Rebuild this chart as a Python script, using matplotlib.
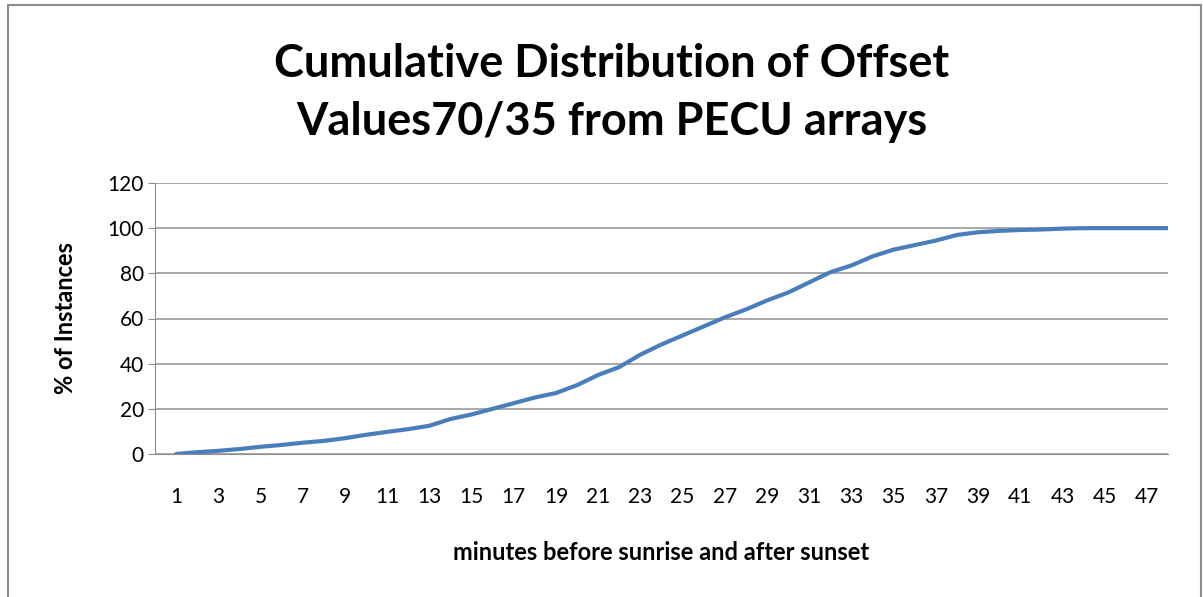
import matplotlib.pyplot as plt
from matplotlib.patches import Rectangle

minutes = list(range(1, 49))
pct_instances = [
    0.0, 0.8, 1.4, 2.2, 3.2, 4.0, 5.0, 5.8, 7.0, 8.5,
    9.8, 11.0, 12.5, 15.5, 17.5, 20.0, 22.5, 25.0, 27.0, 30.5,
    35.0, 38.5, 44.0, 48.5, 52.5, 56.5, 60.5, 64.0, 68.0, 71.5,
    76.0, 80.5, 83.5, 87.5, 90.5, 92.5, 94.5, 97.0, 98.2, 98.8,
    99.2, 99.4, 99.8, 100.0, 100.0, 100.0, 100.0, 100.0,
]
y_ticks = [0, 20, 40, 60, 80, 100, 120]
x_tick_labels = [str(m) for m in minutes if m % 2 == 1]

plt.rcParams["font.family"] = ["Lato", "DejaVu Sans"]

W, H = 1203, 597
fig = plt.figure(figsize=(W / 100, H / 100), dpi=100)

# chart border like the Excel chart area
fig.patches.append(Rectangle((8 / W, -0.05), (W - 10) / W, 1.05 - 5 / H,
                             transform=fig.transFigure, fill=False,
                             edgecolor="#8c8c8c", linewidth=1.5))

ax = fig.add_axes([155 / W, 1 - 454 / H, (1168 - 155) / W, (454 - 183) / H])

ax.plot(minutes, pct_instances, color="#4A7EBB", linewidth=3, solid_capstyle="round")

ax.set_xlim(0, 48)
ax.set_ylim(0, 120)
ax.set_yticks(y_ticks)
ax.set_xticks([m for m in minutes if m % 2 == 1])
ax.set_xticklabels(x_tick_labels)

ax.grid(axis="y", color="#9a9a9a", linewidth=1.2)
ax.set_axisbelow(True)
for s in ["top", "right"]:
    ax.spines[s].set_visible(False)
ax.spines["left"].set_color("#8c8c8c")
ax.spines["bottom"].set_color("#8c8c8c")
ax.tick_params(axis="y", length=5, color="#8c8c8c", labelsize=15, pad=3)
ax.tick_params(axis="x", length=0, labelsize=15, pad=24)

ax.set_xlabel("minutes before sunrise and after sunset", fontsize=17,
              fontweight="bold", labelpad=24)
ax.set_ylabel("% of Instances", fontsize=17, fontweight="bold", labelpad=22)

fig.text(612 / W, 1 - 93 / H, "Cumulative Distribution of Offset\nValues70/35 from PECU arrays",
         ha="center", va="center", fontsize=32.5, fontweight="bold", linespacing=1.45)

fig.savefig("out.png", dpi=100)
